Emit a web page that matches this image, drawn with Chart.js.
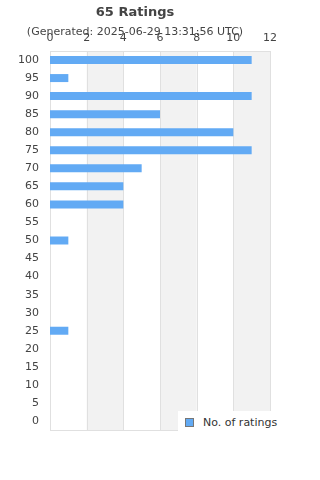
<!DOCTYPE html>
<html>
<head>
<meta charset="utf-8">
<script src="https://cdn.jsdelivr.net/npm/chart.js@4"></script>
<style>
  html, body { margin: 0; padding: 0; background: #fff; }
  #wrap { position: relative; width: 320px; height: 480px; }
  #legend {
    position: absolute; left: 178px; top: 411px; width: 106px; height: 22px;
    background: #fff; font: 11px "DejaVu Sans", sans-serif; color: #333;
    display: flex; align-items: center;
  }
  #legend .box {
    display: inline-block; width: 7px; height: 7px; margin: 0 9px 0 7px;
    background: #62aaf4; border: 1px solid #777;
  }
</style>
</head>
<body>
<div id="wrap">
  <canvas id="chart" width="320" height="480"></canvas>
  <div id="legend"><span class="box"></span><span>No. of ratings</span></div>
</div>
<script>
// Rating buckets, top to bottom
const ratingLabels = ['100', '95', '90', '85', '80', '75', '70', '65', '60', '55', '50',
  '45', '40', '35', '30', '25', '20', '15', '10', '5', '0'];
const ratingCounts = [11, 1, 11, 6, 10, 11, 5, 4, 4, 0, 1, 0, 0, 0, 0, 1, 0, 0, 0, 0, 0];
const xTicks = [0, 2, 4, 6, 8, 10, 12];

const textColor = '#444';
const gridColor = '#e0e0e0';

// Alternate shaded bands between x ticks + plot frame
const bandsPlugin = {
  id: 'bands',
  beforeDatasetsDraw(chart) {
    const { ctx, chartArea, scales } = chart;
    ctx.save();
    ctx.fillStyle = '#f2f2f2';
    for (let i = 1; i < xTicks.length - 1; i += 2) {
      const x0 = scales.x.getPixelForValue(xTicks[i]);
      const x1 = scales.x.getPixelForValue(xTicks[i + 1]);
      ctx.fillRect(x0, chartArea.top, x1 - x0, chartArea.bottom - chartArea.top);
    }
    ctx.strokeStyle = gridColor;
    ctx.lineWidth = 1;
    xTicks.forEach(v => {
      const x = Math.round(scales.x.getPixelForValue(v)) + 0.5;
      ctx.beginPath();
      ctx.moveTo(x, chartArea.top);
      ctx.lineTo(x, chartArea.bottom);
      ctx.stroke();
    });
    ctx.strokeRect(Math.round(chartArea.left) + 0.5, Math.round(chartArea.top) + 0.5,
      Math.round(chartArea.right - chartArea.left), Math.round(chartArea.bottom - chartArea.top));
    ctx.restore();
  }
};

new Chart(document.getElementById('chart'), {
  type: 'bar',
  data: {
    labels: ratingLabels,
    datasets: [{
      label: 'No. of ratings',
      data: ratingCounts,
      backgroundColor: '#62aaf4',
      borderWidth: 0,
      inflateAmount: 0,
      barThickness: 8
    }]
  },
  options: {
    indexAxis: 'y',
    responsive: false,
    animation: false,
    layout: { padding: { left: 0, right: 50, bottom: 50, top: 0 } },
    plugins: {
      legend: { display: false },
      tooltip: { enabled: false },
      title: {
        display: true,
        text: '65 Ratings',
        color: textColor,
        font: { family: 'DejaVu Sans', size: 13, weight: 'bold' },
        padding: { top: 5, bottom: 5 }
      },
      subtitle: {
        display: true,
        text: '(Generated: 2025-06-29 13:31:56 UTC)',
        color: textColor,
        font: { family: 'DejaVu Sans', size: 11 },
        padding: { top: 0, bottom: -13 }
      }
    },
    scales: {
      x: {
        position: 'top',
        min: 0,
        max: 12,
        grid: { display: false, drawTicks: false },
        border: { display: false },
        ticks: { stepSize: 2, color: textColor, font: { family: 'DejaVu Sans', size: 11 }, padding: 6, maxRotation: 0 }
      },
      y: {
        afterFit: s => { s.width = 50; },
        grid: { display: false, drawTicks: false },
        border: { display: false },
        ticks: { color: textColor, font: { family: 'DejaVu Sans', size: 11 }, padding: 11 }
      }
    }
  },
  plugins: [bandsPlugin]
});
</script>
</body>
</html>
